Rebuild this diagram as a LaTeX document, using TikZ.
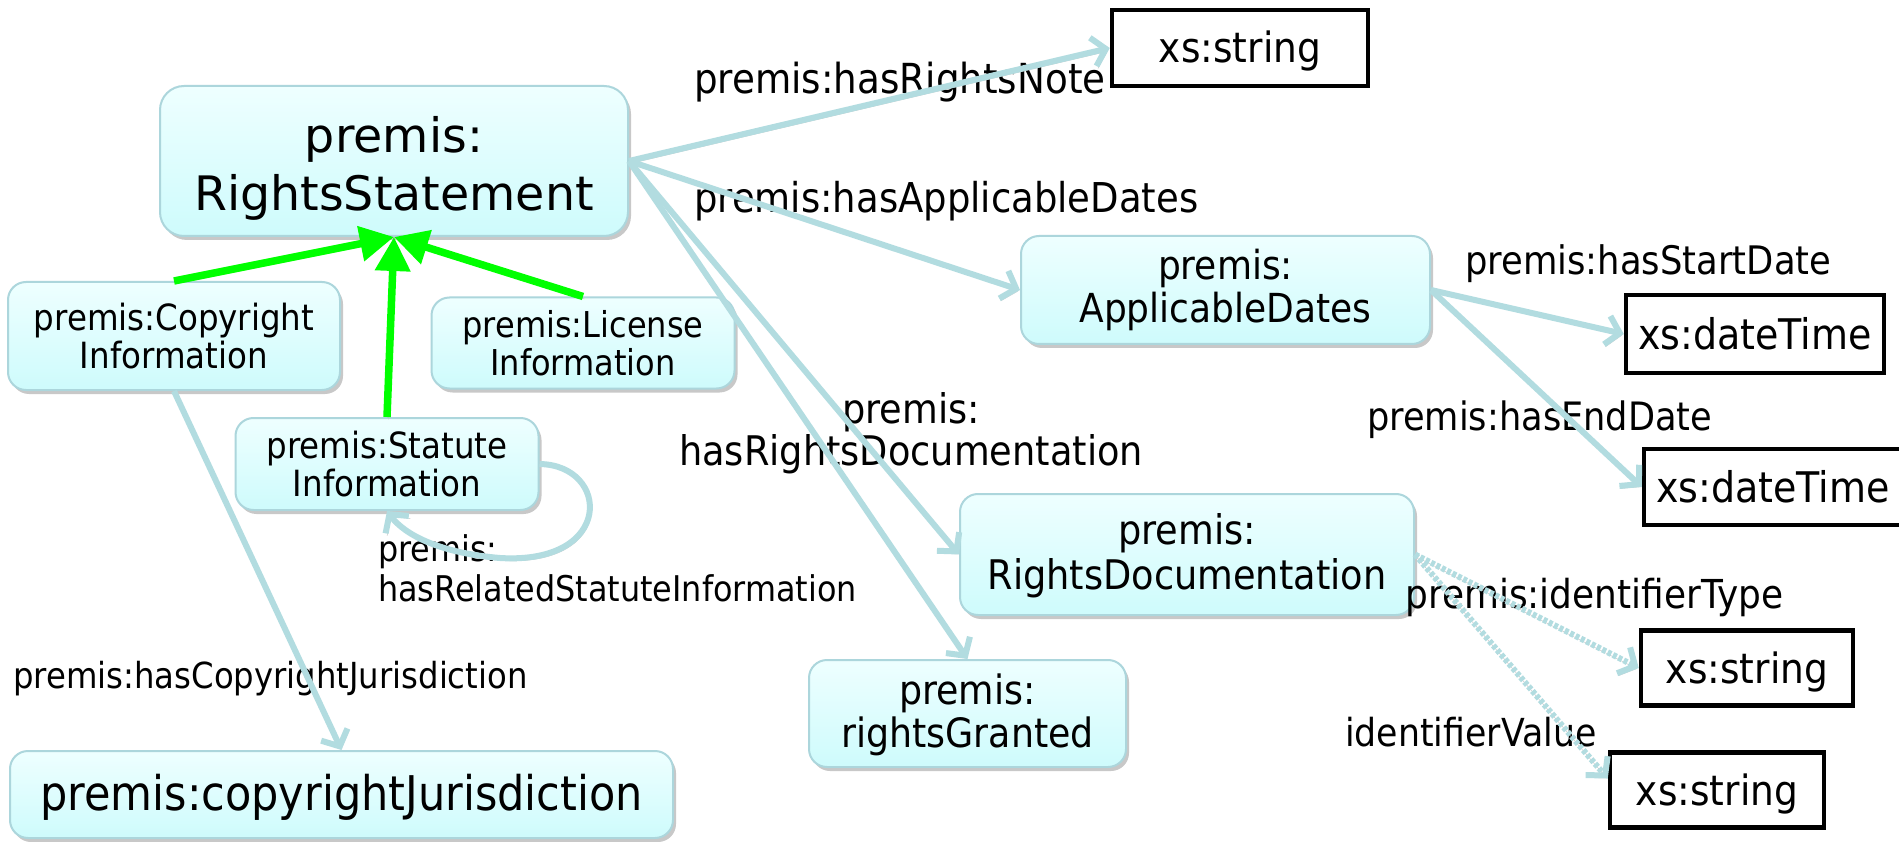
\documentclass[tikz,border=0pt]{standalone}
\usepackage{fontspec}
\setmainfont{DejaVu Sans}[FakeStretch=0.9]
\newfontfamily\rsfont{DejaVu Sans}
\usetikzlibrary{arrows.meta,shadows}
\definecolor{edgeblue}{RGB}{178,220,224}
\definecolor{edgeshadow}{RGB}{195,195,195}
\definecolor{nodeborder}{RGB}{172,214,220}
\definecolor{nodetop}{RGB}{238,255,255}
\definecolor{nodebottom}{RGB}{206,251,252}
\definecolor{arrowgreen}{RGB}{0,255,0}
\definecolor{shadowgray}{RGB}{200,200,200}
\begin{document}
\begin{tikzpicture}[x=1pt,y=-1pt,
  fs/.style 2 args={font=\fontsize{#1}{#2}\selectfont},
  bnode/.style={draw=nodeborder, line width=2pt, rounded corners=18pt, top color=nodetop, bottom color=nodebottom, drop shadow={shadow xshift=3pt, shadow yshift=-4pt, fill=shadowgray, opacity=1}, align=center, inner sep=0pt},
  vbox/.style={draw=black, line width=4.5pt, fill=white, inner sep=0pt, fs={41.7}{44}, text height=36pt, text depth=6pt},
  lbl/.style={inner sep=0pt, align=left},
  eshadow/.style={preaction={draw=edgeshadow, transform canvas={shift={(1.5pt,-2.5pt)}}}},
  bedge/.style={draw=edgeblue, line width=6pt, eshadow, -{Straight Barb[length=13pt,width=29pt]}},
  dedge/.style={bedge, dash pattern=on 4pt off 2pt},
  gedge/.style={draw=arrowgreen, line width=7.5pt, eshadow, -{Triangle[length=34pt,width=34pt]}}
]
\fill[white] (0,0) rectangle (1899,842);
\useasboundingbox (0,0) rectangle (1899,842);

% class nodes
\node[bnode, font=\rsfont\fontsize{47.5}{58}\selectfont, minimum width=468pt, minimum height=150pt, rounded corners=24pt] (RS) at (394,161) {\rule{0pt}{50pt}premis:\\RightsStatement};
\node[bnode, fs={36.1}{38}, minimum width=332pt, minimum height=108pt] (CP) at (174,336) {premis:Copyright\\Information};
\node[bnode, fs={35.6}{38}, minimum width=303pt, minimum height=91pt] (LI) at (583,343) {premis:License\\Information};
\node[bnode, fs={36.1}{38}, minimum width=303pt, minimum height=92pt] (ST) at (387,464) {premis:Statute\\Information};
\node[bnode, fs={47.8}{50}, text height=40pt, text depth=9pt, minimum width=663pt, minimum height=87pt] (CJ) at (341.5,794.5) {premis:copyrightJurisdiction};
\node[bnode, fs={40}{43}, minimum width=409pt, minimum height=108pt] (AD) at (1225.5,290) {premis:\\ApplicableDates};
\node[bnode, fs={40.8}{45}, minimum width=454pt, minimum height=121pt] (RD) at (1187,554.5) {\rule{0pt}{34pt}premis:\\RightsDocumentation};
\node[bnode, fs={40.4}{43}, minimum width=317pt, minimum height=107pt] (RG) at (967.5,713.5) {\rule{0pt}{33pt}premis:\\rightsGranted};

% value boxes
\node[vbox, minimum width=256pt, minimum height=76pt] (XS1) at (1240,48) {xs:string};
\node[vbox, fs={42.2}{44}, minimum width=258pt, minimum height=78pt] (DT1) at (1755,334) {xs:dateTime};
\node[vbox, fs={42.2}{44}, minimum width=258pt, minimum height=76pt] (DT2) at (1773,487) {xs:dateTime};
\node[vbox, minimum width=212pt, minimum height=75pt] (XS2) at (1747,668) {xs:string};
\node[vbox, minimum width=214pt, minimum height=75pt] (XS3) at (1717,790) {xs:string};

% labels
\node[lbl, fs={41.4}{44}, anchor=west] (lNote) at (694,82) {premis:hasRightsNote};
\node[lbl, fs={41.1}{44}, anchor=west] (lAD) at (694,201) {premis:hasApplicableDates};
\node[lbl, fs={39.3}{44}, anchor=west] (lStart) at (1465,264) {premis:hasStartDate};
\node[lbl, fs={39.1}{44}, anchor=west] (lEnd) at (1367,420) {premis:hasEndDate};
\node[lbl, fs={40.8}{42}, align=center] (lRD) at (911,433) {premis:\\hasRightsDocumentation};
\node[lbl, fs={35.4}{40}, anchor=west] (lRel) at (378,568) {premis:\\hasRelatedStatuteInformation};
\node[lbl, fs={35.9}{40}, anchor=west] (lCJ) at (13,679) {premis:hasCopyrightJurisdiction};
\node[lbl, fs={39.9}{44}, anchor=west] (lIT) at (1405,597) {premis:identifierType};
\node[lbl, fs={38.6}{44}, anchor=west] (lIV) at (1345,732) {identifierValue};

% edges
\draw[bedge] (RS.east) -- (XS1.west);
\draw[bedge] (RS.east) -- (AD.west);
\draw[bedge] (RS.east) -- (RD.west);
\draw[bedge] (RS.east) -- (RG.north);
\draw[bedge] (CP.south) -- (CJ.north);
\draw[bedge] (ST.east) .. controls (610,465) and (615,565) .. (500,558) .. controls (440,553) and (405,535) .. (ST.south);
\draw[bedge] (AD.east) -- (DT1.west);
\draw[bedge] (AD.east) -- (DT2.west);
\draw[dedge] (RD.east) -- (XS2.west);
\draw[dedge] (RD.east) -- (XS3.174);
\draw[gedge] (CP.north) -- (RS.south);
\draw[gedge] (ST.north) -- (RS.south);
\draw[gedge] (LI.north) -- (RS.south);
\end{tikzpicture}
\end{document}
